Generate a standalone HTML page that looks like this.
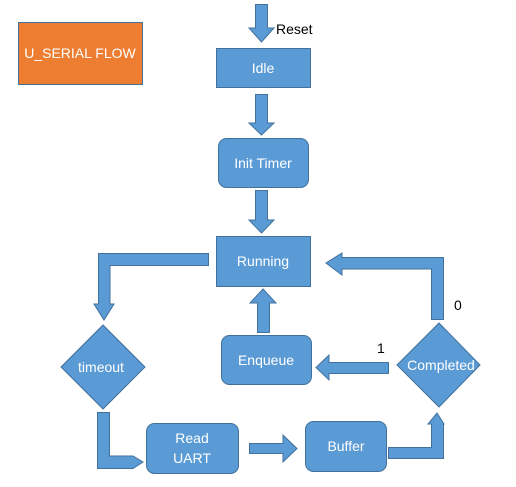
<!DOCTYPE html>
<html><head><style>
html,body{margin:0;padding:0;background:#fff;}
svg{display:block;}
text{font-family:"Liberation Sans",sans-serif;}
</style></head><body>
<svg width="516" height="487" viewBox="0 0 516 487" xmlns="http://www.w3.org/2000/svg">
<g fill="#5b9bd5" stroke="#41719c" stroke-width="1">
<!-- orange box -->
<rect x="18.5" y="22.5" width="124" height="62" fill="#ed7d31" stroke="#41719c"/>
<!-- reset arrow -->
<polygon points="255.5,4.5 267.5,4.5 267.5,28 274,28 261.5,42 249,28 255.5,28"/>
<rect x="216.5" y="48.5" width="94" height="39"/>
<polygon points="255.5,94.5 267.5,94.5 267.5,123 274,123 261.5,135 249,123 255.5,123"/>
<rect x="218.5" y="138.5" width="90" height="49" rx="8"/>
<polygon points="255.5,190.5 267.5,190.5 267.5,220 274,220 261.5,233 249,220 255.5,220"/>
<rect x="216.5" y="236.5" width="94" height="50"/>
<!-- left elbow -->
<polygon points="208.5,253.5 98.5,253.5 98.5,304 94,304 104,320 114,304 110,304 110,265.5 208.5,265.5"/>
<polygon points="103,325 145,367 103,409 61,367"/>
<!-- bottom-left elbow -->
<polygon points="97.5,412.5 109.5,412.5 109.5,456 133,456 143,462 133,468.5 97.5,468.5"/>
<rect x="146.5" y="423.5" width="92" height="50" rx="8"/>
<polygon points="249.5,443.5 283,443.5 283,435 297,448.5 283,462 283,453.5 249.5,453.5"/>
<rect x="305.5" y="421.5" width="81" height="50" rx="8"/>
<!-- right bottom elbow -->
<polygon points="388.5,447.5 431.5,447.5 431.5,424 428,424 437,413 444,424 443.5,424 443.5,458.5 388.5,458.5"/>
<polygon points="439,323 480,365 439,407 397,365"/>
<!-- 1 arrow -->
<polygon points="388.5,362.5 329,362.5 329,355 316,367.5 329,380 329,373.5 388.5,373.5"/>
<rect x="221.5" y="335.5" width="90" height="49" rx="8"/>
<!-- up arrow -->
<polygon points="257.5,332.5 269.5,332.5 269.5,303 276,303 263,289 250,303 257.5,303"/>
<!-- top right elbow -->
<polygon points="431.5,319.5 443.5,319.5 443.5,257.5 342,257.5 342,253 326,263 342,275 342,269 431.5,269"/>
</g>
<g fill="#fff" font-size="14" text-anchor="middle">
<text x="80" y="58">U_SERIAL FLOW</text>
<text x="263" y="73">Idle</text>
<text x="263" y="168">Init Timer</text>
<text x="263" y="266">Running</text>
<text x="101" y="372">timeout</text>
<text x="266" y="365">Enqueue</text>
<text x="441" y="370">Completed</text>
<text x="192" y="443">Read</text>
<text x="192" y="463">UART</text>
<text x="346" y="451">Buffer</text>
</g>
<g fill="#000" font-size="14">
<text x="276" y="34">Reset</text>
<text x="454" y="310">0</text>
<text x="377" y="353">1</text>
</g>
</svg>
</body></html>
